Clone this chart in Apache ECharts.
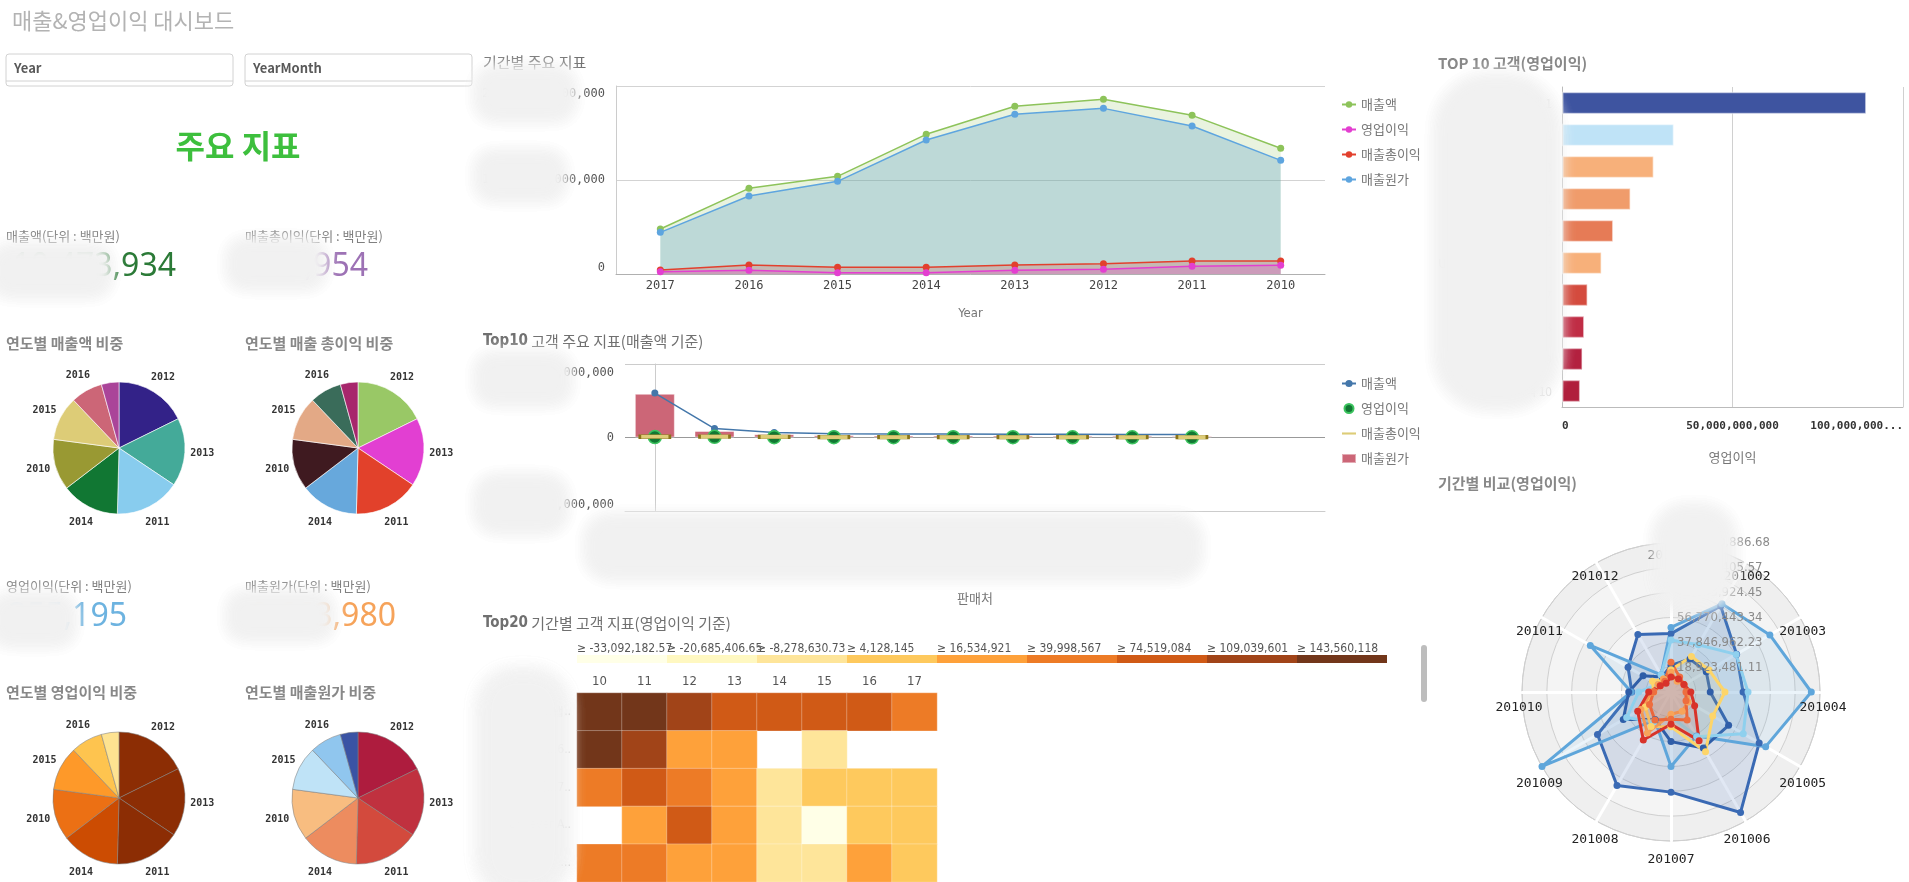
<!DOCTYPE html>
<html><head><meta charset="utf-8">
<script src="https://cdn.jsdelivr.net/npm/echarts@6/dist/echarts.min.js"></script>
<style>html,body{margin:0;padding:0;background:#fff;}#c{width:1909px;height:882px;}</style>
</head><body><div id="c"></div>
<script>
// ---------- data ----------
const years = ['2017','2016','2015','2014','2013','2012','2011','2010'];
const salesByYear = [0.479e12, 0.911e12, 1.039e12, 1.486e12, 1.784e12, 1.858e12, 1.688e12, 1.337e12];
const costByYear  = [0.443e12, 0.830e12, 0.986e12, 1.426e12, 1.699e12, 1.762e12, 1.574e12, 1.209e12];
const grossByYear = [0.043e12, 0.096e12, 0.071e12, 0.071e12, 0.096e12, 0.110e12, 0.138e12, 0.138e12];
const opByYear    = [0.025e12, 0.039e12, 0.014e12, 0.014e12, 0.039e12, 0.050e12, 0.082e12, 0.092e12];

const pieYears = ['2012','2013','2011','2014','2010','2015','2016','2017'];
const pieShare = [17.7, 16.7, 16.0, 14.2, 12.5, 10.8, 7.8, 4.3];
const pieColorsSales = ['#332288','#44aa99','#88ccee','#117733','#999933','#ddcc77','#cc6677','#aa4499'];
const pieColorsGross = ['#99c866','#e23fd2','#e2412b','#67a8dc','#3f1a20','#e3a986','#3a6c5a','#a7266c'];
const pieColorsOp    = ['#8c2d04','#8c2d04','#8c2d04','#cc4c02','#ec7014','#fe9929','#fec44f','#fee391'];
const pieColorsCost  = ['#ae1c3e','#c0313f','#d34a3d','#ed8c5f','#f8bd80','#bfe3f7','#90c6ee','#3a53a4'];

const kpiLabels = ['매출액(단위 : 백만원)','매출총이익(단위 : 백만원)','영업이익(단위 : 백만원)','매출원가(단위 : 백만원)'];
const kpiValues = ['10,473,934','809,954','355,195','9,663,980'];
const kpiColors = ['#2b7a37','#9d72b5','#6db3e0','#f6a35a'];

const top10Idx   = [0,1,2,3,4,5,6,7,8,9];
const top10Sales = [1.21e12, 0.242e12, 0.135e12, 0.105e12, 0.098e12, 0.094e12, 0.090e12, 0.086e12, 0.082e12, 0.080e12];
const top10Cost  = [1.19e12, 0.178e12, 0.090e12, 0.063e12, 0.054e12, 0.054e12, 0.052e12, 0.050e12, 0.050e12, 0.040e12];
const top10Gross = [0.020e12, 0.024e12, 0.016e12, 0.012e12, 0.012e12, 0.011e12, 0.010e12, 0.010e12, 0.009e12, 0.009e12];
const top10Op    = [0.012e12, 0.018e12, 0.010e12, 0.008e12, 0.008e12, 0.007e12, 0.007e12, 0.006e12, 0.006e12, 0.005e12];

const heatCols = ['10','11','12','13','14','15','16','17'];
const heatRows = ['…냅..','…6..','[…7..','Unilever A..','…'];
const heatValues = [
  [165.2e6, 158.7e6, 127.4e6, 96.1e6, 88.3e6, 91.5e6, 84.6e6, 62.8e6],
  [149.9e6, 112.6e6, 27.3e6, 24.9e6, null, -3.4e6, null, null],
  [58.4e6, 79.2e6, 52.7e6, 31.5e6, -1.2e6, 9.8e6, 11.4e6, 7.6e6],
  [null, 26.1e6, 81.9e6, 29.7e6, 0.8e6, -31.2e6, 12.3e6, 8.9e6],
  [47.3e6, 44.1e6, 22.6e6, 19.8e6, -4.6e6, 2.1e6, 25.4e6, 13.7e6]
];
const heatBins = [-33092182.57, -20685406.65, -8278630.73, 4128145, 16534921, 39998567, 74519084, 109039601, 143560118];
const heatColors = ['#ffffe5','#fff7bc','#fee391','#fec44f','#fe9929','#ec7014','#cc4c02','#993404','#662506'];

const topCustomers = ['고객 1','고객 2','고객 3','고객 4','고객 5','Unilever Asia Private...','고객 7','고객 8','고객 9','고객 10'];
const topOpProfit = [89.3e9, 32.9e9, 27.0e9, 20.2e9, 15.1e9, 11.7e9, 7.6e9, 6.6e9, 6.1e9, 5.4e9];
const topColors = ['#3e54a0','#bfe3f7','#f7b07a','#f09c6b','#e67b56','#f7b07a','#d44b3e','#c02d45','#b3213f','#b01f3c'];

const months = ['201001','201002','201003','201004','201005','201006','201007','201008','201009','201010','201011','201012'];
const radarMax = 113540886.68;
const radarSeries = [
  {name:'2010', c:'#3a6ab4', a:'rgba(58,106,180,0.22)', v:[44.5e6,75.7e6,57.7e6,54.9e6,77.6e6,106.0e6,76.3e6,82.3e6,64.7e6,29.9e6,37.8e6,50.5e6]},
  {name:'2011', c:'#5fa6db', a:'rgba(95,166,219,0.18)', v:[49.2e6,77.6e6,87.0e6,106.9e6,83.3e6,38.8e6,56.8e6,24.6e6,113.5e6,30.3e6,71.0e6,15.1e6]},
  {name:'2012', c:'#2f5ea8', a:'rgba(47,94,168,0.08)', v:[20.2e6,29.0e6,31.0e6,29.9e6,50.7e6,49.2e6,37.8e6,24.2e6,42.0e6,32.2e6,24.6e6,13.2e6]},
  {name:'2013', c:'#8fd0ee', a:'rgba(143,208,238,0.15)', v:[39.7e6,41.6e6,57.3e6,58.7e6,63.6e6,39.4e6,18.9e6,26.5e6,39.0e6,24.6e6,11.4e6,15.1e6]},
  {name:'2016', c:'#fdd56a', a:'rgba(253,213,106,0.15)', v:[17.0e6,31.2e6,33.5e6,41.1e6,36.7e6,52.6e6,26.5e6,30.3e6,22.7e6,13.2e6,16.3e6,11.4e6]},
  {name:'2017', c:'#f7a45a', a:'rgba(247,164,90,0.15)', v:[15.1e6,9.5e6,11.4e6,13.2e6,15.1e6,17.0e6,17.0e6,36.0e6,26.5e6,15.1e6,11.4e6,11.4e6]},
  {name:'2014', c:'#ee6e3e', a:'rgba(238,110,62,0.15)', v:[22.7e6,13.2e6,11.4e6,11.4e6,13.2e6,24.6e6,20.8e6,24.6e6,18.9e6,13.2e6,9.5e6,9.5e6]},
  {name:'2015', c:'#d8332a', a:'rgba(216,51,42,0.15)', v:[11.4e6,11.4e6,11.4e6,15.1e6,20.8e6,42.8e6,24.6e6,42.2e6,29.3e6,17.0e6,9.5e6,7.6e6]}
];

// ---------- styles ----------
const mono = "'DejaVu Sans Mono', monospace";
const kr = "'Noto Sans CJK KR', 'Noto Sans', sans-serif";
const narrow = "'Liberation Sans Narrow', 'DejaVu Sans Condensed', 'Roboto Condensed', Roboto, sans-serif";
const fmt = v => v.toLocaleString('en-US', {maximumFractionDigits: 2});

const chart = echarts.init(document.getElementById('c'), null, {renderer:'canvas'});

// ---------- graphic helpers ----------
const G = [];
function txt(x, y, text, opt) {
  G.push({type:'text', z:100, silent:true, style:Object.assign({x, y, text, fill:'#7f7f7f', font:'13px ' + kr, align:'left', verticalAlign:'middle'}, opt || {})});
}
// soft blurred patch: an off-screen shape casts a blurred shadow onto the page (drawn twice for density)
function blob(x, y, w, h, alpha) {
  const b = 16, off = 5000;
  for (let k = 0; k < 2; k++) {
    G.push({type:'rect', z:110 + k, silent:true,
      shape:{x:x + b/2 - off, y:y + b/2, width:w - b, height:h - b, r:Math.max(2, Math.min(w, h)/2 - b)},
      style:{fill:'#f0f0f0', shadowBlur:b, shadowOffsetX:off, shadowOffsetY:0,
             shadowColor:'rgba(241,241,241,' + (alpha || 1) + ')'}});
  }
}

// title & filters
txt(12, 21, '매출&영업이익 대시보드', {fill:'#b3b3b3', font:'22px ' + kr});
[[6,'Year'],[245,'YearMonth']].forEach(([x, t]) => {
  G.push({type:'rect', z:90, silent:true, shape:{x:x, y:54, width:227, height:32, r:3}, style:{fill:'#fff', stroke:'#d2d2d2', lineWidth:1}});
  G.push({type:'line', z:91, silent:true, shape:{x1:x, y1:81, x2:x+227, y2:81}, style:{stroke:'#d2d2d2', lineWidth:1}});
  txt(x+8, 68, t, {fill:'#595959', font:'bold 13px ' + kr});
});
txt(238, 146, '주요 지표', {fill:'#3dbf3d', font:'bold 32px ' + kr, align:'center'});

// KPIs
const kpiPos = [[6,236,176,267],[245,236,368,267],[6,586,127,617],[245,586,396,617]];
kpiPos.forEach((p, i) => {
  txt(p[0], p[1], kpiLabels[i], {fill:'#808080', font:'13px ' + kr});
  txt(p[2], p[3], kpiValues[i], {fill:kpiColors[i], font:'32px "Noto Sans", Roboto, sans-serif', align:'right'});
});
// pie titles
txt(6, 343, '연도별 매출액 비중', {fill:'#888', font:'bold 15px ' + kr});
txt(245, 343, '연도별 매출 총이익 비중', {fill:'#888', font:'bold 15px ' + kr});
txt(6, 692, '연도별 영업이익 비중', {fill:'#888', font:'bold 15px ' + kr});
txt(245, 692, '연도별 매출원가 비중', {fill:'#888', font:'bold 15px ' + kr});

// middle titles
txt(483, 62, '기간별 주요 지표', {fill:'#707070', font:'15px ' + kr});
G.push({type:'text', z:100, silent:true, style:{x:483, y:341, text:'{b|Top10} 고객 주요 지표(매출액 기준)', fill:'#707070', font:'15px ' + kr, verticalAlign:'middle', rich:{b:{fontWeight:'bold', fontSize:15, fontFamily:narrow, fill:'#707070'}}}});
G.push({type:'text', z:100, silent:true, style:{x:483, y:623, text:'{b|Top20} 기간별 고객 지표(영업이익 기준)', fill:'#707070', font:'15px ' + kr, verticalAlign:'middle', rich:{b:{fontWeight:'bold', fontSize:15, fontFamily:narrow, fill:'#707070'}}}});
// right titles
txt(1438, 63, 'TOP 10 고객(영업이익)', {fill:'#888', font:'bold 15px ' + kr});
txt(1438, 483, '기간별 비교(영업이익)', {fill:'#888', font:'bold 15px ' + kr});

// heatmap legend
heatBins.forEach((b, i) => {
  G.push({type:'rect', z:90, silent:true, shape:{x:577 + i*90, y:655, width:90, height:8}, style:{fill:heatColors[i], opacity:0.92}});
  txt(577 + i*90, 649, '≥ ' + fmt(b), {fill:'#555', font:'12px ' + narrow});
});
// scrollbar
G.push({type:'rect', z:90, silent:true, shape:{x:1421, y:645, width:6, height:57, r:3}, style:{fill:'#bdbdbd'}});

// radar labels
const rcx = 1671, rcy = 692, rr = 149;
months.forEach((m, i) => {
  const a = i * Math.PI / 6;
  txt(rcx + 152*Math.sin(a), rcy + 16 - 152*Math.cos(a), m, {fill:'#222', font:'13px ' + mono, align:'center'});
});
for (let k = 1; k <= 6; k++) {
  txt(rcx + 6, rcy - k*rr/6, fmt(Math.round(radarMax*k/6*100)/100), {fill:'#8a8a8a', font:'13px ' + narrow});
}

// blurred regions
blob(-16, 238, 134, 66);
blob(220, 232, 112, 64);
blob(-16, 587, 98, 66);
blob(220, 585, 120, 62);
blob(468, 60, 114, 68);
blob(468, 144, 104, 64);
blob(468, 346, 110, 66);
blob(468, 468, 106, 72);
blob(578, 508, 630, 78);
blob(470, 662, 106, 240, 0.9);
blob(1428, 68, 138, 348);
blob(1646, 498, 96, 118);

// ---------- series ----------
function pieSeries(cx, cy, colors, border) {
  return [{
    type:'pie', center:[cx, cy], radius:[0, 66], startAngle:90, clockwise:true, silent:true,
    data: pieYears.map((y, i) => ({name:y, value:pieShare[i], itemStyle:{color:colors[i]}})),
    label:{show:false}, labelLine:{show:false},
    itemStyle:{borderColor:border, borderWidth:1}
  }, {
    type:'pie', center:[cx, cy], radius:[66, 95], startAngle:90, clockwise:true, silent:true,
    data: pieYears.map((y, i) => ({name:y, value:pieShare[i], label:{show: i < 7}})),
    itemStyle:{color:'rgba(0,0,0,0)'},
    label:{show:true, position:'inside', rotate:0, color:'#333', fontFamily:mono, fontWeight:'bold', fontSize:10},
    labelLine:{show:false}
  }];
}

function yLabel(maxV, pad) {
  return {color:'#555', fontFamily:mono, fontSize:12, margin:11, verticalAlignMinLabel:'bottom',
    formatter: v => v === maxV ? '{t|' + fmt(v) + '}' : fmt(v),
    rich:{t:{color:'#555', fontFamily:mono, fontSize:12, padding:[pad, 0, 0, 0]}}};
}

const idx = top10Idx;
const option = {
  animation:false,
  backgroundColor:'#fff',
  graphic: G,
  grid:[
    {left:616, top:86, width:709, height:188},
    {left:625, top:364, width:700, height:147},
    {left:577, top:693, width:360, height:222},
    {left:1562, top:87, width:341, height:320}
  ],
  xAxis:[
    {gridIndex:0, type:'category', data:years, boundaryGap:true, axisTick:{show:false},
     axisLine:{lineStyle:{color:'#b0b0b0'}}, axisLabel:{color:'#444', fontFamily:mono, fontSize:12, margin:6},
     name:'Year', nameLocation:'middle', nameGap:33, nameTextStyle:{color:'#777', fontSize:13, fontFamily:narrow}},
    {gridIndex:1, type:'value', min:-0.5, max:11.23, axisLine:{onZero:false, lineStyle:{color:'#ccc'}},
     axisTick:{show:false}, axisLabel:{show:false}, splitLine:{show:false},
     name:'판매처', nameLocation:'middle', nameGap:81, nameTextStyle:{color:'#777', fontSize:13, fontFamily:kr}},
    {gridIndex:2, type:'category', position:'top', data:heatCols, axisLine:{show:false}, axisTick:{show:false},
     axisLabel:{color:'#555', fontSize:13, fontFamily:narrow, margin:5}, splitLine:{show:false}},
    {gridIndex:3, type:'value', min:0, max:100e9, interval:50e9, axisLine:{show:true, lineStyle:{color:'#bbb'}},
     axisTick:{show:false}, splitLine:{lineStyle:{color:'#d0d0d0'}},
     axisLabel:{color:'#333', fontFamily:mono, fontWeight:'bold', fontSize:11, margin:14,
       alignMinLabel:'left', alignMaxLabel:'right',
       formatter:v => { const s = fmt(v); return s.length > 14 ? s.slice(0, 11) + '...' : s; }},
     name:'영업이익', nameLocation:'middle', nameGap:44, nameTextStyle:{color:'#777', fontSize:13, fontFamily:kr}}
  ],
  yAxis:[
    {gridIndex:0, type:'value', min:0, max:2e12, interval:1e12, axisLine:{show:true, lineStyle:{color:'#ccc'}},
     splitLine:{lineStyle:{color:'#d3d3d3'}}, axisLabel:yLabel(2e12, 16)},
    {gridIndex:1, type:'value', min:-2e12, max:2e12, interval:2e12, axisLine:{show:true, lineStyle:{color:'#ccc'}},
     splitLine:{lineStyle:{color:['#ccc','#999','#ccc']}}, axisLabel:yLabel(2e12, 18)},
    {gridIndex:2, type:'category', data:heatRows, inverse:true, axisLine:{show:false}, axisTick:{show:false},
     axisLabel:{color:'#bdbdbd', fontSize:12, fontFamily:narrow, margin:6}},
    {gridIndex:3, type:'category', data:topCustomers, inverse:true, axisLine:{show:true, lineStyle:{color:'#bbb'}},
     axisTick:{show:false}, axisLabel:{show:true, color:'#d8d8d8', fontSize:12, fontFamily:kr, margin:10, width:120, overflow:'truncate'}}
  ],
  legend:[
    {orient:'vertical', left:1336, top:93, itemWidth:14, itemHeight:8, itemGap:12,
     textStyle:{color:'#777', fontSize:13, fontFamily:kr},
     data:['매출액','영업이익','매출총이익','매출원가'], selectedMode:false},
    {orient:'vertical', left:1336, top:372, itemWidth:14, itemHeight:9, itemGap:12,
     textStyle:{color:'#777', fontSize:13, fontFamily:kr}, selectedMode:false,
     data:[{name:'매출액 '}, {name:'영업이익 ', icon:'circle'},
           {name:'매출총이익 ', icon:'path://M0 0H20V3H0Z', itemStyle:{borderWidth:0}}, {name:'매출원가 ', icon:'rect'}]}
  ],
  visualMap:[{type:'piecewise', show:false, seriesIndex:12, dimension:2,
    pieces: heatBins.map((b, i) => i < heatBins.length - 1 ? {gte:b, lt:heatBins[i+1], color:heatColors[i]} : {gte:b, color:heatColors[i]})}],
  radar:{center:[rcx, rcy], radius:rr, startAngle:90, splitNumber:6, shape:'circle',
    indicator: months.map((m, i) => i === 0 ? 0 : months.length - i).map(i => ({name:months[i], min:0, max:radarMax})),
    axisName:{show:false},
    splitLine:{lineStyle:{color:'#cfcfcf', width:1}},
    splitArea:{areaStyle:{color:['#f4f4f4','#efefef']}},
    axisLine:{lineStyle:{color:'#ffffff', width:3}}},
  series:[
    // line chart (0-3)
    {name:'매출액', type:'line', xAxisIndex:0, yAxisIndex:0, data:salesByYear, symbol:'circle', symbolSize:7,
     itemStyle:{color:'#8dc35a'}, lineStyle:{width:1.5, color:'#8dc35a'}, areaStyle:{color:'rgba(141,195,90,0.28)'}, z:2},
    {name:'매출원가', type:'line', xAxisIndex:0, yAxisIndex:0, data:costByYear, symbol:'circle', symbolSize:7,
     itemStyle:{color:'#5ea5df'}, lineStyle:{width:1.5, color:'#5ea5df'}, areaStyle:{color:'rgba(90,160,200,0.43)'}, z:3},
    {name:'매출총이익', type:'line', xAxisIndex:0, yAxisIndex:0, data:grossByYear, symbol:'circle', symbolSize:7,
     itemStyle:{color:'#e2402d'}, lineStyle:{width:1.5, color:'#e2402d'}, areaStyle:{color:'rgba(226,64,45,0.3)'}, z:4},
    {name:'영업이익', type:'line', xAxisIndex:0, yAxisIndex:0, data:opByYear, symbol:'circle', symbolSize:7,
     itemStyle:{color:'#e33fd0'}, lineStyle:{width:1.5, color:'#e33fd0'}, areaStyle:{color:'rgba(227,63,208,0.35)'}, z:5},
    // top10 combo (4-7)
    {name:'매출원가 ', type:'bar', xAxisIndex:1, yAxisIndex:1, barWidth:40, data:idx.map(i => [i, top10Cost[i]]),
     itemStyle:{color:'#cc6677', borderColor:'rgba(255,255,255,0.45)', borderWidth:1}, z:2},
    {name:'매출액 ', type:'line', xAxisIndex:1, yAxisIndex:1, data:idx.map(i => [i, top10Sales[i]]), symbol:'circle', symbolSize:7,
     itemStyle:{color:'#4477aa'}, lineStyle:{width:1.5, color:'#4477aa'}, z:3},
    {name:'영업이익 ', type:'scatter', xAxisIndex:1, yAxisIndex:1, data:idx.map(i => [i, top10Op[i]]), symbol:'circle', symbolSize:13,
     itemStyle:{color:'#117733', borderColor:'#3cc35e', borderWidth:1.5, opacity:1}, z:4},
    {name:'매출총이익 ', type:'scatter', xAxisIndex:1, yAxisIndex:1, data:idx.map(i => [i, top10Gross[i]]), symbol:'rect', symbolSize:[30, 4],
     itemStyle:{color:'#ddcc77', borderColor:'#8a7418', borderWidth:1, opacity:1}, z:5}
  ].concat(
    pieSeries(119, 448, pieColorsSales, 'rgba(255,255,255,0.6)'),   // 8,9
    pieSeries(358, 448, pieColorsGross, 'rgba(255,255,255,0.6)')    // 10,11
  ).concat([
    // heatmap (12)
    {type:'heatmap', xAxisIndex:2, yAxisIndex:2, silent:true,
     data: heatValues.flatMap((row, r) => row.map((v, c) => v === null ? null : [c, r, v]).filter(d => d)),
     itemStyle:{borderColor:'rgba(255,255,255,0.35)', borderWidth:1, opacity:0.92}, label:{show:false}}
  ]).concat(
    pieSeries(119, 798, pieColorsOp, 'rgba(130,130,130,0.55)'),
    pieSeries(358, 798, pieColorsCost, 'rgba(130,130,130,0.55)')
  ).concat([
    {type:'bar', xAxisIndex:3, yAxisIndex:3, barWidth:'71%', silent:true,
     data: topOpProfit.map((v, i) => ({value:v, itemStyle:{color:topColors[i]}})),
     itemStyle:{borderColor:'rgba(255,255,255,0.5)', borderWidth:1.5}},
    {type:'radar', radarIndex:0, silent:true, symbol:'circle', symbolSize:7,
     data: radarSeries.map(s => ({name:s.name,
       value: months.map((m, i) => i === 0 ? 0 : months.length - i).map(i => s.v[i]),
       itemStyle:{color:s.c}, lineStyle:{color:s.c, width:3}, areaStyle:{color:s.a}}))}
  ])
};
chart.setOption(option);
</script>
</body></html>
